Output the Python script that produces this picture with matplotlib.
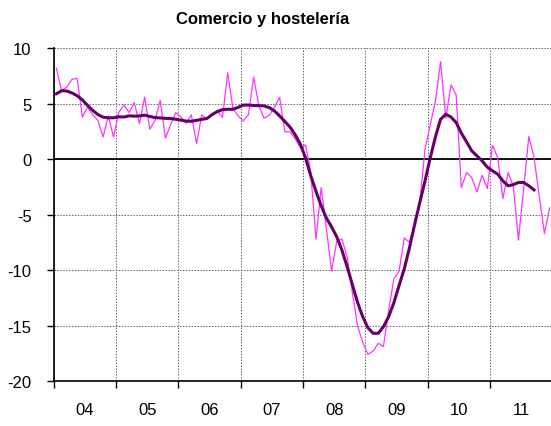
import numpy as np
import matplotlib
matplotlib.use("Agg")
import matplotlib.pyplot as plt

# --- data (monthly, Jan 2004 onward) ---
years = ["04", "05", "06", "07", "08", "09", "10", "11"]

serie_mensual = [
    8.2, 6.2, 6.5, 7.2, 7.3, 3.8, 4.7, 4.0, 3.5, 2.0, 3.9, 2.0,
    4.2, 4.9, 4.2, 5.1, 3.2, 5.6, 2.7, 3.5, 5.3, 1.9, 3.1, 4.2,
    3.8, 3.25, 4.0, 1.4, 4.0, 3.6, 4.1, 4.3, 3.76, 7.8, 4.6, 3.9,
    3.46, 4.0, 7.4, 4.8, 3.7, 3.95, 4.67, 5.57, 2.47, 2.47, 1.85, 1.0,
    1.3, -1.2, -7.2, -2.56, -6.2, -10.1, -7.4, -7.2, -8.8, -12.0, -15.0, -16.5,
    -17.6, -17.3, -16.6, -16.9, -13.6, -10.8, -10.1, -7.1, -7.5, -5.9, -3.9, 0.9,
    3.1, 5.2, 8.8, 3.7, 6.7, 5.8, -2.56, -1.2, -1.66, -2.95, -1.45, -2.65,
    1.26, 0.15, -3.55, -1.2, -2.4, -7.3, -2.6, 2.05, 0.15, -3.3, -6.7, -4.4,
]

tendencia = [
    5.9, 6.17, 6.15, 5.97, 5.72, 5.35, 4.85, 4.4, 4.02, 3.79, 3.73, 3.73,
    3.82, 3.8, 3.91, 3.88, 3.9, 3.97, 3.85, 3.75, 3.72, 3.68, 3.67, 3.6,
    3.52, 3.43, 3.42, 3.5, 3.59, 3.67, 4.02, 4.3, 4.47, 4.5, 4.5, 4.67,
    4.88, 4.88, 4.84, 4.83, 4.8, 4.65, 4.35, 3.9, 3.4, 2.9, 2.2, 1.35,
    0.1, -1.5, -2.9, -4.2, -5.3, -6.1, -7.0, -8.2, -9.7, -11.3, -12.9, -14.2,
    -15.2, -15.7, -15.7, -15.1, -14.2, -12.95, -11.4, -9.9, -8.0, -5.9, -3.9, -1.96,
    0.1, 2.0, 3.6, 4.05, 3.8, 3.3, 2.35, 1.57, 0.75, 0.3, -0.15, -0.72,
    -1.05, -1.35, -1.96, -2.4, -2.3, -2.1, -2.1, -2.4, -2.77,
]

x_mes = np.arange(len(serie_mensual)) + 0.5
x_tend = np.arange(len(tendencia)) + 0.5

plt.rcParams['font.family'] = ['Liberation Sans', 'DejaVu Sans']
plt.rcParams['axes.unicode_minus'] = False

fig = plt.figure(figsize=(5.51, 4.27), dpi=100)
ax = fig.add_axes([0.0976, 0.1054, 0.9046, 0.7792])

ax.plot(x_mes, serie_mensual, color='#ff33ff', lw=0.9, zorder=3)
ax.plot(x_tend, tendencia, color='#660066', lw=2.2, zorder=4)
ax.axhline(0, color='black', lw=1.3, zorder=2)

ax.set_xlim(0, 12 * len(years))
ax.set_ylim(-20, 10)
ax.set_yticks(np.arange(-20, 11, 5))

ax.set_xticks(np.arange(0, 12 * len(years) + 1, 12))
ax.set_xticks(np.arange(6, 12 * len(years), 12), minor=True)
ax.set_xticklabels([])
ax.set_xticklabels(years, minor=True)

ax.grid(True, which='major', color='#666666', linestyle=(0, (1.5, 1.5)), lw=0.7)
ax.set_axisbelow(True)

ax.tick_params(axis='x', which='major', direction='out', length=5, width=1)
ax.tick_params(axis='x', which='minor', length=0, pad=15, labelsize=12)
ax.tick_params(axis='y', direction='out', length=5, width=1, pad=11, labelsize=12)

for s in ['top', 'right']:
    ax.spines[s].set_visible(False)
for s in ['left', 'bottom']:
    ax.spines[s].set_linewidth(1.2)
    ax.spines[s].set_color('black')

fig.text(0.477, 0.955, "Comercio y hostelería", ha='center', va='center',
         fontsize=12, fontweight='bold')

fig.savefig("out.png", dpi=100)
